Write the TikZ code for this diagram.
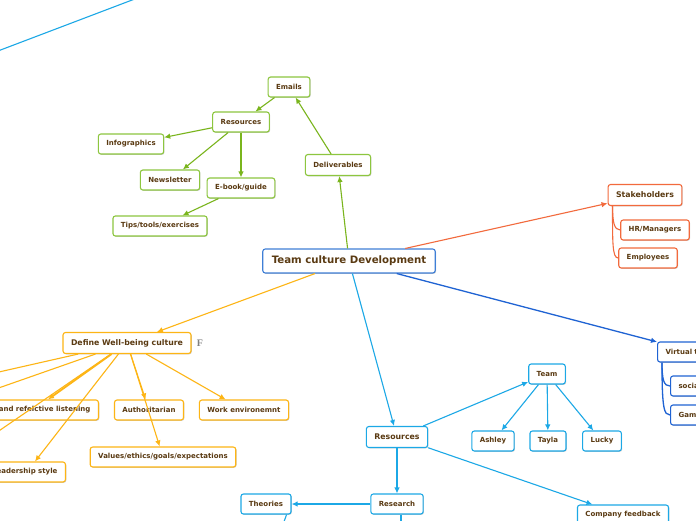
\documentclass[tikz,border=0pt]{standalone}
\usepackage{fontspec}
\setmainfont{DejaVu Sans}
\newfontfamily\flagfont{Liberation Serif}
\usetikzlibrary{shadows,arrows.meta}

\definecolor{txtbrown}{HTML}{5A3A12}
\definecolor{mgreen}{HTML}{8DC63F}
\definecolor{mgreenln}{HTML}{7AB51D}
\definecolor{morange}{HTML}{F26A3D}
\definecolor{myellow}{HTML}{FDB515}
\definecolor{mcyan}{HTML}{1CA8E6}
\definecolor{mblue}{HTML}{1F63D3}
\definecolor{mroot}{HTML}{3F7FD6}

\begin{document}
\begin{tikzpicture}[x=1pt,y=-1pt,>={Latex[length=6pt,width=5.5pt]},
  box/.style={draw,rounded corners=2.5pt,fill=white,line width=1.1pt,text=txtbrown,
    font=\bfseries\fontsize{7}{8}\selectfont,minimum height=20pt,inner xsep=8pt,
    drop shadow={shadow xshift=0.8pt,shadow yshift=-0.8pt,opacity=0.2,fill=black}},
  bigbox/.style={box,font=\bfseries\fontsize{7.8}{9}\selectfont,minimum height=21pt},
  gbox/.style={box,draw=mgreen},
  obox/.style={box,draw=morange},
  ybox/.style={box,draw=myellow},
  cbox/.style={box,draw=mcyan},
  bbox/.style={box,draw=mblue},
  gline/.style={mgreenln,line width=1.1pt},
  oline/.style={morange,line width=1.1pt},
  yline/.style={myellow,line width=1.1pt},
  cline/.style={mcyan,line width=1.1pt},
  bline/.style={mblue,line width=1.3pt}]
  \useasboundingbox (0,0) rectangle (696,520);
  \fill[white] (0,0) rectangle (696,520);
  \clip (0,0) rectangle (696,520);

  % central topic
  \node[box,draw=mroot,font=\bfseries\fontsize{10.2}{12}\selectfont,minimum height=24pt,inner xsep=9pt] (root) at (349,261) {Team culture Development};

  % deliverables
  \node[bigbox,draw=mgreen,font=\bfseries\fontsize{7}{8}\selectfont] (deliv) at (338,165) {Deliverables};
  \node[gbox] (emails) at (289,87) {Emails};
  \node[gbox] (gres) at (241,122) {Resources};
  \node[gbox] (info) at (131,144) {Infographics};
  \node[gbox] (news) at (170,180) {Newsletter};
  \node[gbox] (ebook) at (241,188) {E-book/guide};
  \node[gbox] (tips) at (160,226) {Tips/tools/exercises};
  \draw[gline,->] (root) -- (deliv);
  \draw[gline,->] (deliv) -- (emails);
  \draw[gline,->] (emails) -- (gres);
  \draw[gline,->] (gres) -- (info);
  \draw[gline,->] (gres) -- (news);
  \draw[gline,->] (gres) -- (ebook);
  \draw[gline,->] (ebook) -- (tips);

  % stakeholders
  \node[obox,font=\bfseries\fontsize{7.8}{9}\selectfont,minimum height=21pt] (stake) at (645,195) {Stakeholders};
  \node[obox] (hrman) at (655,230) {HR/Managers};
  \node[obox] (employ) at (648,258) {Employees};
  \draw[oline,->] (root) -- (stake);
  \draw[oline] ([xshift=5pt]stake.south west) .. controls +(0,16) and +(-6,0) .. (hrman.west);
  \draw[oline] ([xshift=5pt]stake.south west) .. controls +(0,36) and +(-6,0) .. (employ.west);

  % well-being
  \node[ybox,font=\bfseries\fontsize{7.8}{9}\selectfont,minimum height=21pt] (define) at (127,343) {Define Well-being culture};
  \node[gray,font=\flagfont\bfseries\fontsize{10}{12}\selectfont] (flag) at (200,343) {F};
  \node[ybox,anchor=east] (listen) at (99,410) {and refelctive listening};
  \node[ybox] (author) at (149,410) {Authoritarian};
  \node[ybox] (workenv) at (244,410) {Work environemnt};
  \node[ybox] (values) at (163,457) {Values/ethics/goals/expectations};
  \node[ybox,anchor=east] (lead) at (66,472) {eadership style};
  \coordinate (offa) at (-10,374);
  \coordinate (offb) at (-10,391);
  \coordinate (offc) at (-10,437);
  \draw[yline,->] (root) -- (define);
  \draw[yline] (define) -- (offa);
  \draw[yline] (define) -- (offb);
  \draw[yline] (define) -- (offc);
  \draw[yline,line width=1.8pt,->] (define) -- (listen.north -| 48,0);
  \draw[yline,->] (define) -- (lead.north -| 35,0);
  \draw[yline,->] (define) -- (author);
  \draw[yline,->] (define) -- (values);
  \draw[yline,->] (define) -- (workenv);

  % virtual team
  \node[bbox,anchor=west,text width=60pt,align=left] (virt) at (657,352) {Virtual t};
  \node[bbox,anchor=west,text width=40pt,align=left] (social) at (670,386) {socia};
  \node[bbox,anchor=west,text width=40pt,align=left] (games) at (670,415) {Gam};
  \draw[bline,->] (root) -- (virt);
  \draw[bline] ([xshift=5pt]virt.south west) .. controls +(0,18) and +(-6,0) .. (social.west);
  \draw[bline] ([xshift=5pt]virt.south west) .. controls +(0,46) and +(-6,0) .. (games.west);

  % resources
  \node[cbox,font=\bfseries\fontsize{7.8}{9}\selectfont,minimum height=21pt] (cres) at (397,437) {Resources};
  \node[cbox] (team) at (547,374) {Team};
  \node[cbox] (ashley) at (493,441) {Ashley};
  \node[cbox] (tayla) at (548,441) {Tayla};
  \node[cbox] (lucky) at (602,441) {Lucky};
  \node[cbox] (research) at (397,504) {Research};
  \node[cbox] (theory) at (266,504) {Theories};
  \node[cbox] (feedback) at (623,515) {Company feedback};
  \coordinate (offd) at (281,530);
  \coordinate (offe) at (401,530);
  \coordinate (topa) at (-10,54);
  \coordinate (topb) at (140,-3);
  \draw[cline,->] (root) -- (cres);
  \draw[cline,->] (cres) -- (team);
  \draw[cline,->] (team) -- (ashley);
  \draw[cline,->] (team) -- (tayla);
  \draw[cline,->] (team) -- (lucky);
  \draw[cline,->] (cres) -- (research);
  \draw[cline,->] (cres) -- (feedback);
  \draw[cline,->] (research) -- (theory);
  \draw[cline] ([xshift=-5pt]theory.south east) -- (offd);
  \draw[cline] ([xshift=4pt]research.south) -- (offe);
  \draw[cline] (topa) -- (topb);
\end{tikzpicture}
\end{document}
